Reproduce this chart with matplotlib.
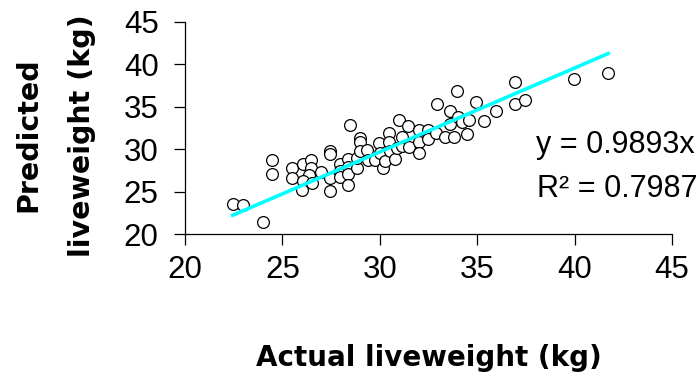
"""Predicted vs actual liveweight scatter with a through-origin trend line."""

import numpy as np
import matplotlib
matplotlib.use("Agg")
import matplotlib.pyplot as plt

# Actual liveweight (kg)
ACTUAL = [
    22.45, 23.0, 24.0, 24.46, 24.46,
    25.47, 25.47, 26.08, 26.46, 26.45, 26.37, 26.04, 26.51, 26.0,
    27.0, 27.45, 27.45, 27.45, 27.45,
    27.97, 27.97, 27.97,
    28.38, 28.38, 28.38, 28.38,
    28.45, 28.84, 28.84,
    28.97, 28.97, 29.0,
    29.34, 29.42, 29.78,
    29.96, 30.0, 30.17, 30.28,
    30.48, 30.45, 30.51, 30.79,
    31.01, 30.89, 31.15, 31.16, 31.47, 31.51,
    31.99, 32.02, 32.01,
    32.45, 32.45,
    32.93, 32.91, 33.36, 33.58, 33.6, 33.79,
    33.94, 34.03, 34.22, 34.57, 34.47,
    34.95, 35.36, 35.96, 36.96, 36.96, 37.47, 39.95, 41.72,
]
# Predicted liveweight (kg)
PREDICTED = [
    23.54, 23.42, 21.38, 28.73, 27.04,
    27.75, 26.63, 28.25, 28.69, 27.75, 26.9, 26.25, 26.01, 25.19,
    27.35, 29.82, 29.38, 26.6, 25.07,
    28.25, 27.43, 26.72,
    28.84, 27.9, 27.08, 25.78,
    32.82, 27.78, 28.93,
    31.29, 30.88, 29.79,
    29.91, 28.73, 28.73,
    30.7, 29.61, 27.81, 28.61,
    31.91, 30.85, 29.79, 28.87,
    33.41, 30.14, 30.38, 31.47, 32.79, 30.26,
    32.26, 30.88, 29.61,
    32.21, 31.18,
    35.37, 31.88, 31.47, 34.54, 32.97, 31.47,
    36.9, 33.74, 33.24, 33.44, 31.79,
    35.51, 33.36, 34.54, 37.96, 35.33, 35.8, 38.24, 38.95,
]
SLOPE = 0.9893
R2 = 0.7987
TICKS = [20, 25, 30, 35, 40, 45]

LABEL_FONT = "DejaVu Sans"
TICK_FONT = "Liberation Sans"


def main():
    x = np.array(ACTUAL)
    y = np.array(PREDICTED)

    fig = plt.figure(figsize=(6.97, 3.85), dpi=100)
    ax = fig.add_axes([0.2654, 0.3922, 0.6987, 0.5507])

    ax.scatter(x, y, s=72, facecolors="white", edgecolors="black",
               linewidths=0.9, zorder=2)
    x_fit = np.array([x.min(), x.max()])
    ax.plot(x_fit, SLOPE * x_fit, color="#00FFFF", linewidth=2.6, zorder=3)

    ax.set_xlim(20, 45)
    ax.set_ylim(20, 45)
    ax.set_xticks(TICKS)
    ax.set_yticks(TICKS)
    for s in ("top", "right"):
        ax.spines[s].set_visible(False)
    for s in ("left", "bottom"):
        ax.spines[s].set_linewidth(0.9)
    ax.tick_params(direction="out", length=8, width=0.9)
    ax.tick_params(axis="x", pad=7)
    ax.tick_params(axis="y", pad=11)
    for lab in ax.get_xticklabels() + ax.get_yticklabels():
        lab.set_fontfamily(TICK_FONT)
        lab.set_fontsize(22.5)

    ax.text(0.72, 0.42, f"y = {SLOPE:.4f}x", transform=ax.transAxes,
            fontsize=22, family=TICK_FONT, ha="left", va="center",
            clip_on=False)
    ax.text(0.722, 0.21, f"R\u00b2 = {R2:.4f}", transform=ax.transAxes,
            fontsize=22, family=TICK_FONT, ha="left", va="center",
            clip_on=False)

    fig.text(0.6155, 0.07, "Actual liveweight (kg)", ha="center", va="center",
             fontsize=20, fontweight="bold", family=LABEL_FONT)
    fig.text(0.04, 0.649, "Predicted", ha="center", va="center", rotation=90,
             fontsize=20.5, fontweight="bold", family=LABEL_FONT)
    fig.text(0.118, 0.649, "liveweight (kg)", ha="center", va="center",
             rotation=90, fontsize=20.5, fontweight="bold", family=LABEL_FONT)

    fig.savefig("out.png", dpi=100)
    plt.close(fig)


if __name__ == "__main__":
    main()
